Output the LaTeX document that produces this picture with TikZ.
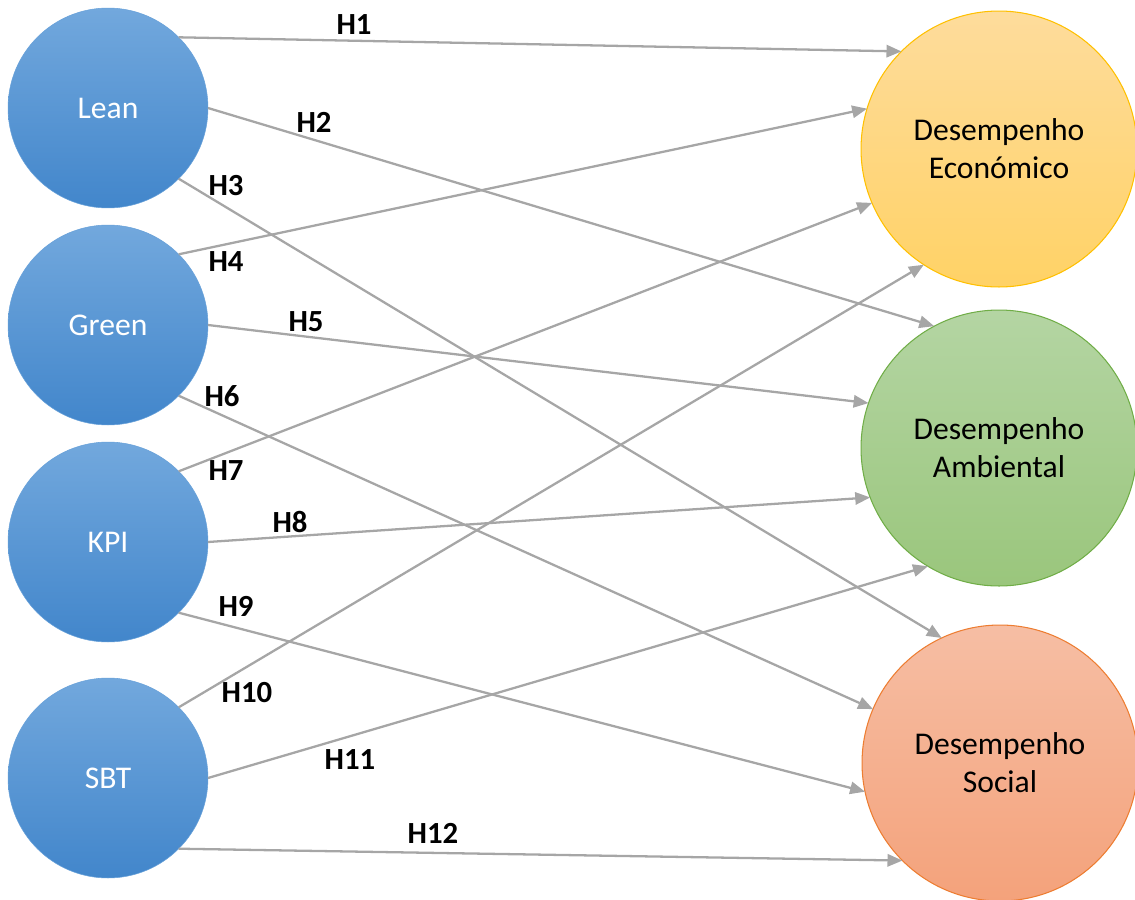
\documentclass[tikz,border=0pt]{standalone}
\usepackage{fontspec}
\setmainfont{Carlito}
\usetikzlibrary{arrows.meta}

\definecolor{blueTop}{HTML}{72A8DD}
\definecolor{blueBot}{HTML}{4286CB}
\definecolor{ecoTop}{HTML}{FEDC9C}
\definecolor{ecoBot}{HTML}{FFD266}
\definecolor{ecoLine}{HTML}{FFC000}
\definecolor{ambTop}{HTML}{B4D5A3}
\definecolor{ambBot}{HTML}{9AC67C}
\definecolor{ambLine}{HTML}{70AD47}
\definecolor{socTop}{HTML}{F6BEA4}
\definecolor{socBot}{HTML}{F4A27B}
\definecolor{socLine}{HTML}{ED7D31}
\definecolor{linkGray}{HTML}{A6A6A6}

\begin{document}
\begin{tikzpicture}[x=0.02cm,y=-0.02cm,
  driver/.style={circle,inner sep=0pt,outer sep=0pt,minimum size=4cm,
    top color=blueTop,bottom color=blueBot,draw=blueTop!80!blueBot,line width=0.3pt,
    text=white,font=\fontsize{18}{22}\selectfont},
  outcome/.style={circle,inner sep=0pt,outer sep=0pt,minimum size=5.52cm,line width=0.6pt,
    align=center,text=black,font=\fontsize{18}{21.5}\selectfont},
  link/.style={draw=linkGray,line width=1.3pt,-{Triangle[length=8.5pt,width=7pt]}},
  hyp/.style={inner sep=0pt,font=\fontsize{17.5}{20}\selectfont\bfseries}]
  \useasboundingbox (0,0) rectangle (1135,899);
  \node[driver] (Lean) at (108,108) {Lean};
  \node[driver] (Green) at (108,325) {Green};
  \node[driver] (KPI) at (108,542) {KPI};
  \node[driver] (SBT) at (108,778) {SBT};
  \node[outcome,top color=ecoTop,bottom color=ecoBot,draw=ecoLine] (Eco) at (999,149) {Desempenho\\Económico};
  \node[outcome,top color=ambTop,bottom color=ambBot,draw=ambLine] (Amb) at (999,448) {Desempenho\\Ambiental};
  \node[outcome,top color=socTop,bottom color=socBot,draw=socLine] (Soc) at (1000,763) {Desempenho\\Social};
  \draw[link] (Lean.45) -- (Eco.135);
  \draw[link] (Lean.0) -- (Amb.118);
  \draw[link] (Lean.-45) -- (Soc.115);
  \draw[link] (Green.45) -- (Eco.163);
  \draw[link] (Green.0) -- (Amb.161);
  \draw[link] (Green.-45) -- (Soc.157);
  \draw[link] (KPI.45) -- (Eco.203);
  \draw[link] (KPI.0) -- (Amb.201);
  \draw[link] (KPI.-45) -- (Soc.192);
  \draw[link] (SBT.45) -- (Eco.237);
  \draw[link] (SBT.0) -- (Amb.239);
  \draw[link] (SBT.-45) -- (Soc.225);
  \node[hyp] (H1) at (354,25) {H1};
  \node[hyp] (H2) at (314,122) {H2};
  \node[hyp] (H3) at (226,186) {H3};
  \node[hyp] (H4) at (226,262) {H4};
  \node[hyp] (H5) at (306,322) {H5};
  \node[hyp] (H6) at (222,396) {H6};
  \node[hyp] (H7) at (226,471) {H7};
  \node[hyp] (H8) at (290,522) {H8};
  \node[hyp] (H9) at (236,606) {H9};
  \node[hyp] (H10) at (247,693) {H10};
  \node[hyp] (H11) at (350,760) {H11};
  \node[hyp] (H12) at (433,833) {H12};
\end{tikzpicture}
\end{document}
